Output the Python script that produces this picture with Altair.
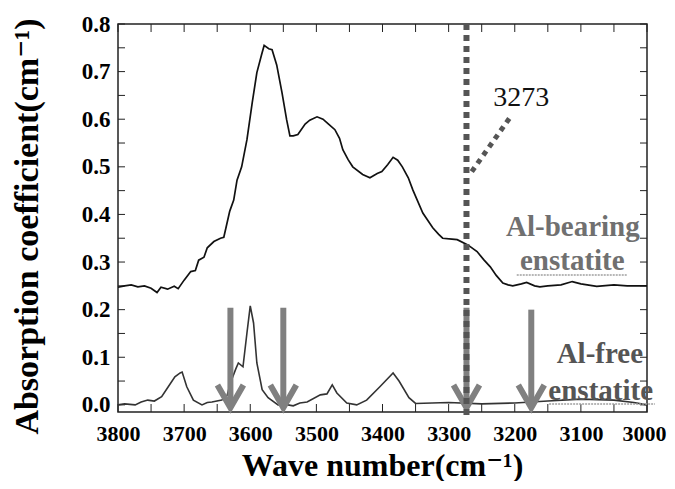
import altair as alt
import pandas as pd

# ---------------- data ----------------
wn_bearing = [3800, 3790, 3780, 3770, 3760, 3750, 3741, 3735, 3725, 3715, 3709, 3700,
              3690, 3683, 3678, 3670, 3665, 3655, 3645, 3640, 3631, 3625, 3620, 3613,
              3605, 3597, 3590, 3583, 3579, 3572, 3567, 3560, 3552, 3545, 3540, 3535,
              3528, 3517, 3510, 3499, 3490, 3482, 3472, 3465, 3460, 3452, 3445, 3430,
              3419, 3408, 3401, 3392, 3384, 3377, 3370, 3361, 3354, 3339, 3324, 3315,
              3309, 3295, 3287, 3271, 3257, 3247, 3237, 3228, 3218, 3210, 3203, 3190,
              3182, 3170, 3162, 3150, 3130, 3113, 3100, 3076, 3050, 3030, 3000]
abs_bearing = [0.247, 0.250, 0.252, 0.248, 0.250, 0.245, 0.236, 0.247, 0.243, 0.249, 0.244, 0.262,
               0.280, 0.282, 0.304, 0.310, 0.330, 0.343, 0.350, 0.352, 0.407, 0.430, 0.472, 0.500,
               0.557, 0.635, 0.698, 0.735, 0.755, 0.748, 0.746, 0.714, 0.656, 0.599, 0.565, 0.565,
               0.568, 0.590, 0.598, 0.605, 0.600, 0.590, 0.578, 0.560, 0.536, 0.515, 0.500, 0.484,
               0.477, 0.486, 0.490, 0.505, 0.520, 0.514, 0.500, 0.477, 0.451, 0.403, 0.372, 0.358,
               0.350, 0.348, 0.347, 0.336, 0.322, 0.305, 0.290, 0.272, 0.256, 0.252, 0.250, 0.254,
               0.257, 0.250, 0.248, 0.250, 0.252, 0.259, 0.254, 0.249, 0.252, 0.250, 0.250]

wn_free = [3800, 3790, 3774, 3765, 3755, 3745, 3734, 3724, 3714, 3706, 3703, 3696,
           3686, 3673, 3665, 3658, 3643, 3635, 3630, 3622, 3618, 3611, 3605, 3600,
           3595, 3590, 3582, 3573, 3558, 3543, 3535, 3525, 3514, 3494, 3484, 3476,
           3469, 3454, 3439, 3424, 3404, 3384, 3375, 3360, 3350, 3300, 3250, 3200,
           3150, 3100, 3050, 3020, 3000]
abs_free = [0.000, 0.002, 0.000, 0.006, 0.010, 0.008, 0.017, 0.038, 0.059, 0.067, 0.069, 0.038,
            0.010, 0.000, 0.005, 0.006, 0.010, 0.020, 0.046, 0.075, 0.088, 0.080, 0.151, 0.208,
            0.172, 0.088, 0.032, 0.015, 0.000, 0.000, -0.002, 0.004, 0.006, 0.021, 0.023, 0.042,
            0.025, 0.004, 0.000, 0.010, 0.038, 0.067, 0.050, 0.015, 0.003, 0.005, 0.002, 0.004,
            0.008, 0.012, 0.010, 0.005, 0.000]

arrow_wn = [3630, 3550, 3273, 3175]
arrow_top = [0.204, 0.204, 0.204, 0.200]
arrow_tip = [-0.006, -0.006, -0.006, -0.006]

marker_wn = [3273]
marker_top = [0.8]
marker_bottom = [-0.027]

leader_wn = [3265]
leader_wn2 = [3204]
leader_v = [0.490]
leader_v2 = [0.610]

peak_label = ["3273"]
peak_label_wn = [3190]
peak_label_v = [0.627]

bearing_text = ["Al-bearing", "enstatite"]
bearing_wn = [3011, 3113]
bearing_v = [0.355, 0.284]

free_text = ["Al-free", "enstatite"]
free_wn = [3006, 3070]
free_v = [0.088, 0.011]

underline_wn = [3197, 3148]
underline_wn2 = [3030, 2988]
underline_v = [0.273, 0.002]

x_tick_values = list(range(3000, 3801, 50))
y_tick_values = [round(i * 0.05, 2) for i in range(17)]
x_label_values = list(range(3000, 3801, 100))
y_label_values = [round(i * 0.1, 1) for i in range(9)]

# ---------------- chart ----------------
W, H = 529, 388
FONT = "'Liberation Serif', 'Times New Roman', Times, 'DejaVu Serif', serif"

xscale = alt.Scale(domain=[3000, 3800], reverse=True, nice=False, zero=False)
yscale = alt.Scale(domain=[-0.015, 0.8], nice=False, zero=False)

xaxis = alt.Axis(values=x_label_values, format="d", title="Wave number(cm⁻¹)",
                 domain=False, ticks=False, grid=False, labelFlush=False, labelOverlap=False,
                 labelFont=FONT, labelFontSize=22, labelFontWeight="bold", labelColor="black",
                 labelPadding=11,
                 labelOffset={"condition": {"test": "datum.value == 3000", "value": -3},
                              "value": 0},
                 titleFont=FONT, titleFontSize=32, titleFontWeight="bold",
                 titleColor="black", titleX=264, titleY=63, titleAlign="center",
                 titleBaseline="alphabetic")
yaxis = alt.Axis(values=y_label_values, format=".1f", title="Absorption coefficient(cm⁻¹)",
                 domain=False, ticks=False, grid=False, labelFlush=False, labelOverlap=False,
                 labelFont=FONT, labelFontSize=23, labelFontWeight="bold", labelColor="black",
                 labelPadding=8, titleFont=FONT, titleFontSize=34, titleFontWeight="bold",
                 titleColor="black", titleX=-91, titleY=202, titleAngle=270,
                 titleAlign="center", titleBaseline="middle")


def X(field="wn"):
    return alt.X(f"{field}:Q", scale=xscale, axis=xaxis)


def Y(field):
    return alt.Y(f"{field}:Q", scale=yscale, axis=yaxis)


bearing_df = pd.DataFrame({"wn": wn_bearing, "v": abs_bearing})
free_df = pd.DataFrame({"wn": wn_free, "v": abs_free})
arrow_df = pd.DataFrame({"wn": arrow_wn, "top": arrow_top, "tip": arrow_tip})
marker_df = pd.DataFrame({"wn": marker_wn, "top": marker_top, "bottom": marker_bottom})
leader_df = pd.DataFrame({"wn": leader_wn, "wn2": leader_wn2, "v": leader_v, "v2": leader_v2})
peak_df = pd.DataFrame({"wn": peak_label_wn, "v": peak_label_v, "t": peak_label})
bear_df = pd.DataFrame({"wn": bearing_wn, "v": bearing_v, "t": bearing_text})
freet_df = pd.DataFrame({"wn": free_wn, "v": free_v, "t": free_text})
under_df = pd.DataFrame({"wn": underline_wn, "wn2": underline_wn2, "v": underline_v})
xt_df = pd.DataFrame({"wn": x_tick_values})
yt_df = pd.DataFrame({"v": y_tick_values})

tick_color = "#222222"
x_bottom = alt.Chart(xt_df).mark_rule(color=tick_color, strokeWidth=1).encode(
    x=X(), y=alt.value(H - 8), y2=alt.value(H))
x_top = alt.Chart(xt_df).mark_rule(color=tick_color, strokeWidth=1).encode(
    x=X(), y=alt.value(0), y2=alt.value(8))
y_left = alt.Chart(yt_df).mark_rule(color=tick_color, strokeWidth=1).encode(
    y=Y("v"), x=alt.value(0), x2=alt.value(7))
y_right = alt.Chart(yt_df).mark_rule(color=tick_color, strokeWidth=1).encode(
    y=Y("v"), x=alt.value(W - 7), x2=alt.value(W))

bearing_line = alt.Chart(bearing_df).mark_line(color="#111111", strokeWidth=1.7).encode(
    x=X(), y=Y("v"))
free_line = alt.Chart(free_df).mark_line(color="#333333", strokeWidth=1.6).encode(
    x=X(), y=Y("v"))

shafts = alt.Chart(arrow_df).mark_rule(color="#808080", strokeWidth=6).encode(
    x=X(), y=Y("top"), y2="tip:Q")
heads = alt.Chart(arrow_df).mark_point(
    shape="M-1,-1.75L0,0L1,-1.75", size=676, filled=False, strokeWidth=6,
    color="#808080", opacity=1).encode(x=X(), y=Y("tip"))

marker = alt.Chart(marker_df).mark_rule(color="#555555", strokeWidth=6, strokeDash=[6, 5]).encode(
    x=X(), y=Y("top"), y2="bottom:Q")
leader = alt.Chart(leader_df).mark_rule(color="#555555", strokeWidth=5, strokeDash=[5, 5]).encode(
    x=X(), x2="wn2:Q", y=Y("v"), y2="v2:Q")

peak_text = alt.Chart(peak_df).mark_text(font=FONT, fontSize=28, color="#111111",
                                         align="center", baseline="alphabetic").encode(
    x=X(), y=Y("v"), text="t:N")

bear_label1 = alt.Chart(bear_df.iloc[[0]]).mark_text(
    font=FONT, fontSize=29, fontWeight="bold", color="#707070", align="right",
    baseline="alphabetic").encode(x=X(), y=Y("v"), text="t:N")
bear_label2 = alt.Chart(bear_df.iloc[[1]]).mark_text(
    font=FONT, fontSize=29, fontWeight="bold", color="#707070", align="center",
    baseline="alphabetic").encode(x=X(), y=Y("v"), text="t:N")
free_label1 = alt.Chart(freet_df.iloc[[0]]).mark_text(
    font=FONT, fontSize=29, fontWeight="bold", color="#555555", align="right",
    baseline="alphabetic").encode(x=X(), y=Y("v"), text="t:N")
free_label2 = alt.Chart(freet_df.iloc[[1]]).mark_text(
    font=FONT, fontSize=29, fontWeight="bold", color="#555555", align="center",
    baseline="alphabetic").encode(x=X(), y=Y("v"), text="t:N")

underlines = alt.Chart(under_df).mark_rule(color="#a0a0a0", strokeWidth=1.5,
                                           strokeDash=[2, 1]).encode(
    x=X(), x2="wn2:Q", y=Y("v"))

chart = alt.layer(
    x_bottom, x_top, y_left, y_right,
    bearing_line, free_line,
    shafts, heads,
    marker, leader,
    underlines,
    peak_text, bear_label1, bear_label2, free_label1, free_label2,
).properties(
    width=W, height=H, autosize="none",
    padding={"left": 110, "top": 16, "right": 20, "bottom": 69},
    background="white",
).configure_view(stroke="#222222", strokeWidth=1.5)

chart.save("out.html", embed_options={"renderer": "svg", "actions": False})
